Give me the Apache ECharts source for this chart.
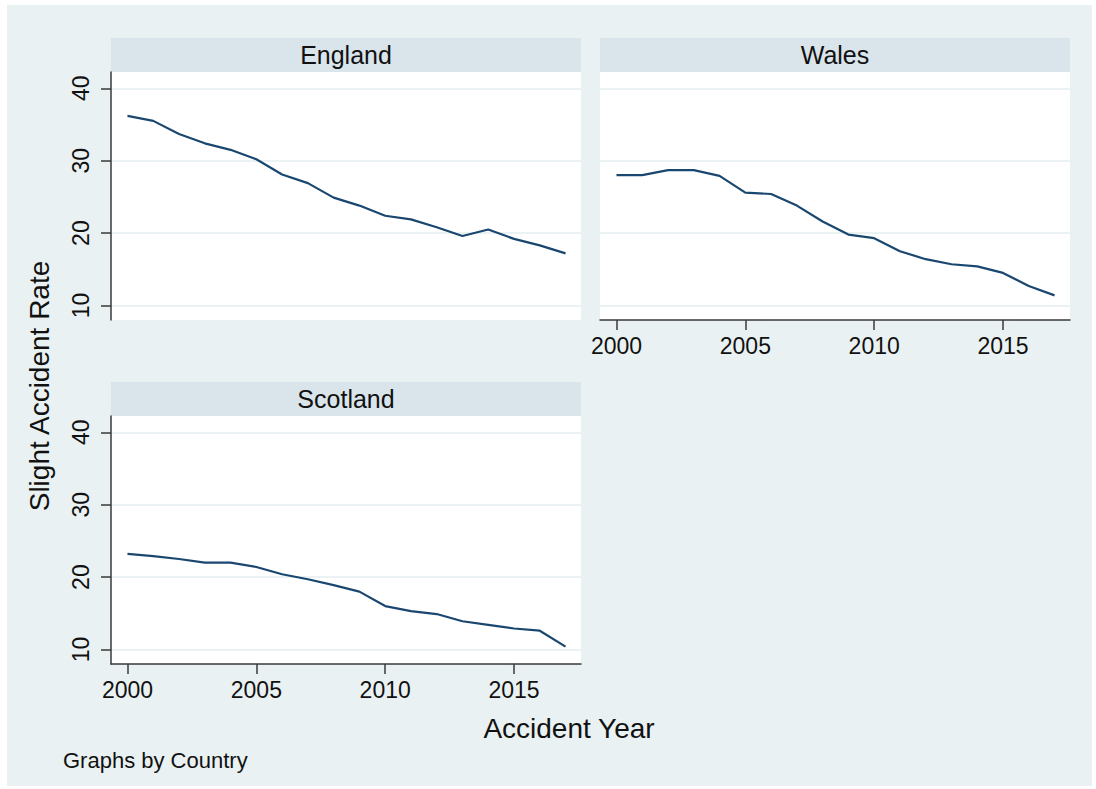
<!DOCTYPE html>
<html>
<head>
<meta charset="utf-8">
<script src="https://cdn.jsdelivr.net/npm/echarts@6/dist/echarts.min.js"></script>
<style>
html,body{margin:0;padding:0;background:#ffffff;}
#chart{width:1096px;height:789px;}
</style>
</head>
<body>
<div id="chart"></div>
<script>
// ---- data ----
const years = [2000,2001,2002,2003,2004,2005,2006,2007,2008,2009,2010,2011,2012,2013,2014,2015,2016,2017];
const england  = [36.2,35.5,33.7,32.4,31.5,30.2,28.1,26.9,24.9,23.8,22.4,21.9,20.8,19.6,20.5,19.2,18.3,17.2];
const wales    = [28.0,28.0,28.7,28.7,27.9,25.6,25.4,23.8,21.6,19.8,19.3,17.5,16.4,15.7,15.4,14.5,12.7,11.4];
const scotland = [23.2,22.9,22.5,22.0,22.0,21.4,20.4,19.7,18.9,18.0,16.0,15.3,14.9,13.9,13.4,12.9,12.6,10.4];
const panelNames = ['England','Wales','Scotland'];
const yTicks = [10,20,30,40];
const xTicks = [2000,2005,2010,2015];
const yTitle = 'Slight Accident Rate';
const xTitle = 'Accident Year';
const note = 'Graphs by Country';

const FONT = "'Liberation Sans', Arial, sans-serif";
const LINE = '#1a476f';
const AXIS = '#3a3a3a';
const GRIDC = '#eaf2f3';
const STRIP = '#d9e5eb';
const BG = '#eaf1f3';

const panels = [
  {left:111, top:72,  showY:true,  showX:false, data:england},
  {left:600, top:72,  showY:false, showX:true,  data:wales},
  {left:111, top:416, showY:true,  showX:true,  data:scotland}
];
const PW = 470, PH = 248;

const grids = [], xAxes = [], yAxes = [], series = [], graphics = [];

graphics.push({type:'rect', left:7, top:5, shape:{width:1085, height:781}, style:{fill:BG}, z:-10});

panels.forEach((p, i) => {
  grids.push({left:p.left, top:p.top, width:PW, height:PH, backgroundColor:'#ffffff', show:true, borderWidth:0});
  xAxes.push({
    type:'value', gridIndex:i, min:1999.36, max:2017.6,
    axisLine:{show:p.showX, onZero:false, lineStyle:{color:AXIS, width:1.5}},
    axisTick:{show:p.showX, length:10, customValues:xTicks, lineStyle:{color:AXIS, width:1.5}},
    axisLabel:{show:p.showX, customValues:xTicks, formatter:(v) => String(v), fontSize:23, fontFamily:FONT, color:'#111', margin:14},
    splitLine:{show:false}
  });
  yAxes.push({
    type:'value', gridIndex:i, min:8, max:42.25,
    axisLine:{show:p.showY, onZero:false, lineStyle:{color:AXIS, width:1.5}},
    axisTick:{show:p.showY, length:10, customValues:yTicks, lineStyle:{color:AXIS, width:1.5}},
    axisLabel:{show:p.showY, customValues:yTicks, formatter:(v) => String(v), rotate:90, fontSize:23, fontFamily:FONT, color:'#111', margin:19},
    splitLine:{show:true, lineStyle:{color:GRIDC, width:2}}
  });
  series.push({
    type:'line', xAxisIndex:i, yAxisIndex:i, name:panelNames[i],
    data: years.map((y, k) => [y, p.data[k]]),
    symbol:'none', lineStyle:{color:LINE, width:2.2}, silent:true, animation:false
  });
  graphics.push({type:'rect', left:p.left, top:p.top-34, shape:{width:PW, height:34}, style:{fill:STRIP}, z:-5});
  graphics.push({type:'text', x:p.left+PW/2, y:p.top-17, style:{text:panelNames[i], fontSize:25, fontFamily:FONT, fill:'#111', align:'center', verticalAlign:'middle'}});
});

graphics.push({type:'text', x:569, y:728, style:{text:xTitle, fontSize:28, fontFamily:FONT, fill:'#111', align:'center', verticalAlign:'middle'}});
graphics.push({type:'text', x:39, y:386, rotation:Math.PI/2, style:{text:yTitle, fontSize:28, fontFamily:FONT, fill:'#111', align:'center', verticalAlign:'middle'}});
graphics.push({type:'text', x:63, y:760, style:{text:note, fontSize:22, fontFamily:FONT, fill:'#111', align:'left', verticalAlign:'middle'}});

const chart = echarts.init(document.getElementById('chart'), null, {renderer:'svg'});
chart.setOption({
  animation:false,
  backgroundColor:'#ffffff',
  grid:grids, xAxis:xAxes, yAxis:yAxes, series:series,
  graphic:graphics
});
</script>
</body>
</html>
